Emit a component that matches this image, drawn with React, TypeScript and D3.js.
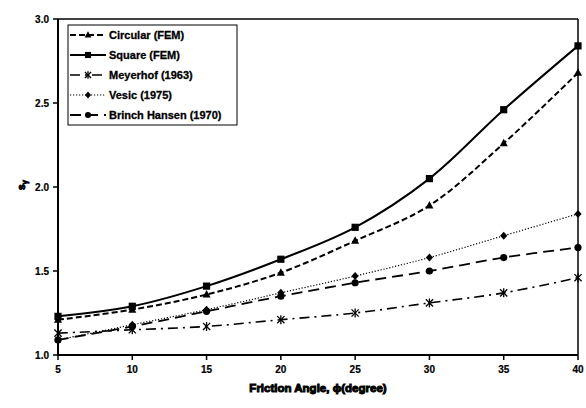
import React from "react";
import * as d3 from "d3";

const width = 586;
const height = 408;
const margin = { top: 19, right: 8, bottom: 53, left: 58 };

const angles = [5, 10, 15, 20, 25, 30, 35, 40];
const circularFem = [1.21, 1.27, 1.36, 1.49, 1.68, 1.89, 2.26, 2.68];
const squareFem = [1.23, 1.29, 1.41, 1.57, 1.76, 2.05, 2.46, 2.84];
const meyerhof = [1.13, 1.15, 1.17, 1.21, 1.25, 1.31, 1.37, 1.46];
const vesic = [1.09, 1.18, 1.27, 1.37, 1.47, 1.58, 1.71, 1.84];
const brinchHansen = [1.09, 1.17, 1.26, 1.35, 1.43, 1.5, 1.58, 1.64];
const yTicks = [1.0, 1.5, 2.0, 2.5, 3.0];

const series = [
  { name: "Circular (FEM)", values: circularFem, dash: "6,3", width: 2, marker: "triangle" },
  { name: "Square (FEM)", values: squareFem, dash: null, width: 2, marker: "square" },
  { name: "Meyerhof (1963)", values: meyerhof, dash: "10,5,2,5", width: 1.6, marker: "star" },
  { name: "Vesic (1975)", values: vesic, dash: "1.2,1.8", width: 1.2, marker: "diamond" },
  { name: "Brinch Hansen (1970)", values: brinchHansen, dash: "11,6", width: 1.8, marker: "circle" },
];

const x = d3.scaleLinear().domain([5, 40]).range([margin.left, width - margin.right]);
const y = d3.scaleLinear().domain([1, 3]).range([height - margin.bottom, margin.top]);

const Marker = ({ type, cx, cy, s = 1 }: { type: string; cx: number; cy: number; s?: number }) => {
  if (type === "square") return <rect x={cx - 3.6 * s} y={cy - 3.6 * s} width={7.2 * s} height={7.2 * s} fill="#000" />;
  if (type === "triangle")
    return (
      <path
        d={`M${cx},${cy - 4.5 * s}L${cx + 4 * s},${cy + 3 * s}L${cx - 4 * s},${cy + 3 * s}Z`}
        fill="#000"
      />
    );
  if (type === "diamond")
    return (
      <path
        d={`M${cx},${cy - 4 * s}L${cx + 3.6 * s},${cy}L${cx},${cy + 4 * s}L${cx - 3.6 * s},${cy}Z`}
        fill="#000"
      />
    );
  if (type === "circle") return <circle cx={cx} cy={cy} r={3.6 * s} fill="#000" />;
  // star / asterisk
  return (
    <g stroke="#000" strokeWidth={1.3}>
      <line x1={cx - 3.6 * s} y1={cy - 3.6 * s} x2={cx + 3.6 * s} y2={cy + 3.6 * s} />
      <line x1={cx - 3.6 * s} y1={cy + 3.6 * s} x2={cx + 3.6 * s} y2={cy - 3.6 * s} />
      <line x1={cx} y1={cy - 4.5 * s} x2={cx} y2={cy + 4.5 * s} />
    </g>
  );
};

const App = () => {
  const line = d3
    .line<number>()
    .x((_, i) => x(angles[i]))
    .y((d) => y(d))
    .curve(d3.curveCatmullRom.alpha(0.5));

  const x0 = margin.left;
  const x1 = width - margin.right;
  const y0 = height - margin.bottom;
  const y1 = margin.top;
  const font = "'Liberation Sans', Arial, sans-serif";

  return (
    <svg width={width} height={height} style={{ position: "absolute", left: 0, top: 0 }} fontFamily={font}>
      <rect width={width} height={height} fill="#fff" />
      {/* frame */}
      <line x1={x0} y1={y1} x2={x1} y2={y1} stroke="#000" strokeWidth={1.5} />
      <line x1={x1} y1={y1} x2={x1} y2={y0} stroke="#000" strokeWidth={1.5} />
      <line x1={x0} y1={y1} x2={x0} y2={y0 + 1} stroke="#000" strokeWidth={2} />
      <line x1={x0 - 1} y1={y0} x2={x1} y2={y0} stroke="#000" strokeWidth={2} />
      {/* y ticks */}
      {yTicks.map((t) => (
        <g key={t}>
          <line x1={x0 - 5} x2={x0} y1={y(t)} y2={y(t)} stroke="#000" strokeWidth={1.5} />
          <text x={x0 - 9} y={y(t)} dy="0.35em" textAnchor="end" fontSize={10} fontWeight="bold" stroke="#000" strokeWidth={0.2}>
            {t.toFixed(1)}
          </text>
        </g>
      ))}
      {/* x ticks */}
      {angles.map((t) => (
        <g key={t}>
          <line x1={x(t)} x2={x(t)} y1={y0} y2={y0 + 5} stroke="#000" strokeWidth={1.5} />
          <text x={x(t)} y={y0 + 18} textAnchor="middle" fontSize={10} fontWeight="bold" stroke="#000" strokeWidth={0.2}>
            {t}
          </text>
        </g>
      ))}
      {/* axis titles */}
      <text
        x={(x0 + x1) / 2}
        y={392}
        textAnchor="middle"
        fontSize={11.5}
        fontWeight="bold"
        stroke="#000"
        strokeWidth={1}
      >
        Friction Angle, ϕ(degree)
      </text>
      <text
        transform={`translate(25,185) rotate(-90)`}
        textAnchor="middle"
        fontSize={10}
        fontWeight="bold"
        stroke="#000"
        strokeWidth={0.9}
      >
        s<tspan dy="2" fontSize={8}>γ</tspan>
      </text>
      {/* series */}
      {series.map((s) => (
        <g key={s.name}>
          <path
            d={line(s.values) ?? ""}
            fill="none"
            stroke="#000"
            strokeWidth={s.width}
            strokeDasharray={s.dash ?? undefined}
          />
          {s.values.map((v, i) => (
            <Marker key={i} type={s.marker} cx={x(angles[i])} cy={y(v)} />
          ))}
        </g>
      ))}
      {/* legend */}
      <rect x={68} y={25} width={169} height={100} fill="#fff" stroke="#000" strokeWidth={1} />
      {series.map((s, i) => {
        const ly = 35 + i * 20;
        return (
          <g key={s.name}>
            <line
              x1={70}
              x2={106}
              y1={ly}
              y2={ly}
              stroke="#000"
              strokeWidth={s.width}
              strokeDasharray={s.dash ?? undefined}
            />
            <Marker type={s.marker} cx={88} cy={ly} s={0.85} />
            <text x={109} y={ly} dy="0.35em" fontSize={11} fontWeight="bold" stroke="#000" strokeWidth={0.3}>
              {s.name}
            </text>
          </g>
        );
      })}
    </svg>
  );
};

export default App;
